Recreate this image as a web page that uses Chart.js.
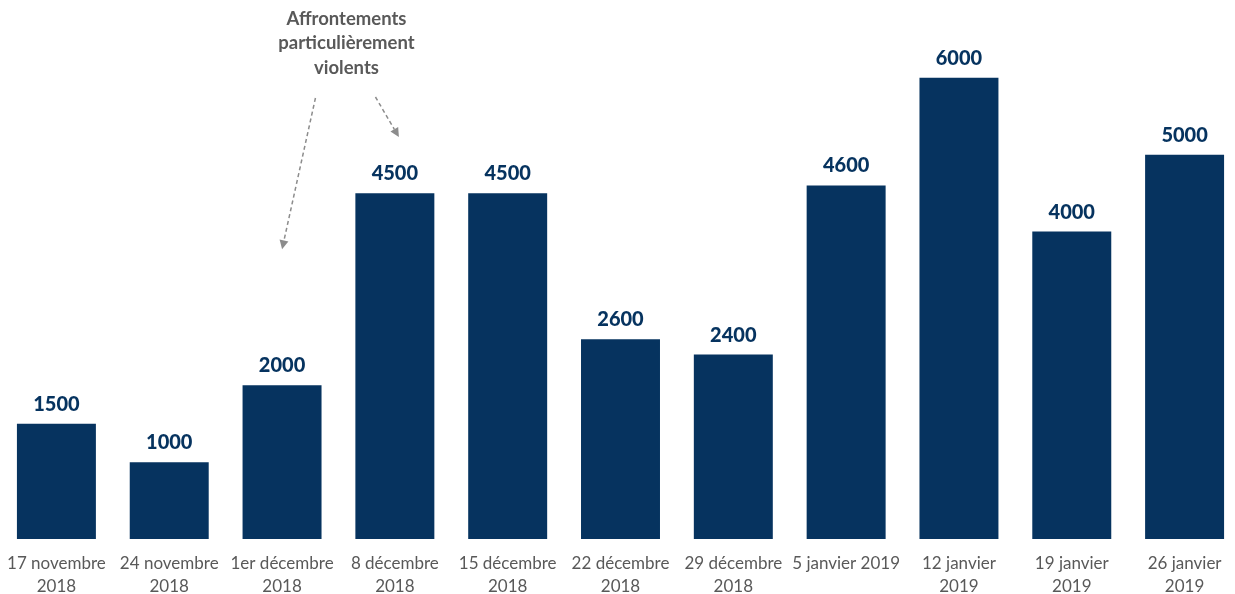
<!DOCTYPE html>
<html>
<head>
<meta charset="utf-8">
<script src="https://cdn.jsdelivr.net/npm/chart.js@4"></script>
<style>
    html, body { margin: 0; padding: 0; background: #fff; overflow: hidden; }
    #wrap { width: 1241px; height: 594px; position: relative; }
</style>
</head>
<body>
<div id="wrap"><canvas id="myChart"></canvas></div>
<script>
// data
const dates = [
    ["17 novembre", "2018"], ["24 novembre", "2018"], ["1er décembre", "2018"],
    ["8 décembre", "2018"], ["15 décembre", "2018"], ["22 décembre", "2018"],
    ["29 décembre", "2018"], "5 janvier 2019", ["12 janvier", "2019"],
    ["19 janvier", "2019"], ["26 janvier", "2019"]
];
const casseurs = [1500, 1000, 2000, 4500, 4500, 2600, 2400, 4600, 6000, 4000, 5000];
const noteLines = ["Affrontements", "particulièrement", "violents"];

const barColor = "#06335f";
const greyText = "#595959";
const fontName = "Lato, 'Open Sans', sans-serif";

// value above each bar
const valueLabels = {
    id: "valueLabels",
    afterDatasetsDraw(chart) {
        const ctx = chart.ctx;
        const meta = chart.getDatasetMeta(0);
        ctx.save();
        ctx.font = "900 20px " + fontName;
        ctx.fillStyle = barColor;
        ctx.textAlign = "center";
        ctx.textBaseline = "alphabetic";
        meta.data.forEach((bar, i) => {
            ctx.fillText(String(casseurs[i]), bar.x, bar.y - 13);
        });
        ctx.restore();
    }
};

// the "affrontements" note with its two dashed arrows
const noteArrows = {
    id: "noteArrows",
    afterDraw(chart) {
        const ctx = chart.ctx;
        const x = chart.scales.x, y = chart.scales.y;
        ctx.save();
        ctx.font = "bold 18.5px " + fontName;
        ctx.fillStyle = greyText;
        ctx.textAlign = "center";
        ctx.textBaseline = "middle";
        const cx = (x.getPixelForValue(2) + x.getPixelForValue(3)) / 2 + 8;
        noteLines.forEach((t, i) => ctx.fillText(t, cx, 19 + i * 24.5));

        function arrow(x0, y0, x1, y1) {
            ctx.strokeStyle = "#8c8c8c";
            ctx.fillStyle = "#8c8c8c";
            ctx.lineWidth = 1.5;
            ctx.setLineDash([4, 3]);
            const a = Math.atan2(y1 - y0, x1 - x0);
            const hx = x1 - 9 * Math.cos(a), hy = y1 - 9 * Math.sin(a);
            ctx.beginPath();
            ctx.moveTo(x0, y0);
            ctx.lineTo(hx, hy);
            ctx.stroke();
            ctx.setLineDash([]);
            ctx.beginPath();
            ctx.moveTo(x1, y1);
            ctx.lineTo(hx + 4.5 * Math.sin(a), hy - 4.5 * Math.cos(a));
            ctx.lineTo(hx - 4.5 * Math.sin(a), hy + 4.5 * Math.cos(a));
            ctx.closePath();
            ctx.fill();
        }
        arrow(cx - 31, 98, x.getPixelForValue(2), y.getPixelForValue(3770));
        arrow(cx + 29, 97, x.getPixelForValue(3) + 4, y.getPixelForValue(5230));
        ctx.restore();
    }
};

const ctx = document.getElementById("myChart").getContext("2d");
ctx.canvas.width = 1241;
ctx.canvas.height = 594;

new Chart(ctx, {
    type: "bar",
    data: {
        labels: dates,
        datasets: [{
            data: casseurs,
            backgroundColor: barColor,
            borderWidth: 0,
            barPercentage: 0.7,
            categoryPercentage: 1
        }]
    },
    options: {
        responsive: false,
        animation: false,
        layout: { padding: { top: 1, left: -4, right: 0, bottom: 0 } },
        plugins: {
            legend: { display: false },
            tooltip: { enabled: false }
        },
        scales: {
            x: {
                grid: { display: false },
                border: { display: false },
                afterFit: (scale) => { scale.height = 55; },
                ticks: {
                    color: greyText,
                    font: { family: fontName, size: 17, lineHeight: "23px" },
                    padding: 5,
                    maxRotation: 0,
                    autoSkip: false
                }
            },
            y: {
                display: false,
                min: 0,
                max: 7000
            }
        }
    },
    plugins: [valueLabels, noteArrows]
});
</script>
</body>
</html>
